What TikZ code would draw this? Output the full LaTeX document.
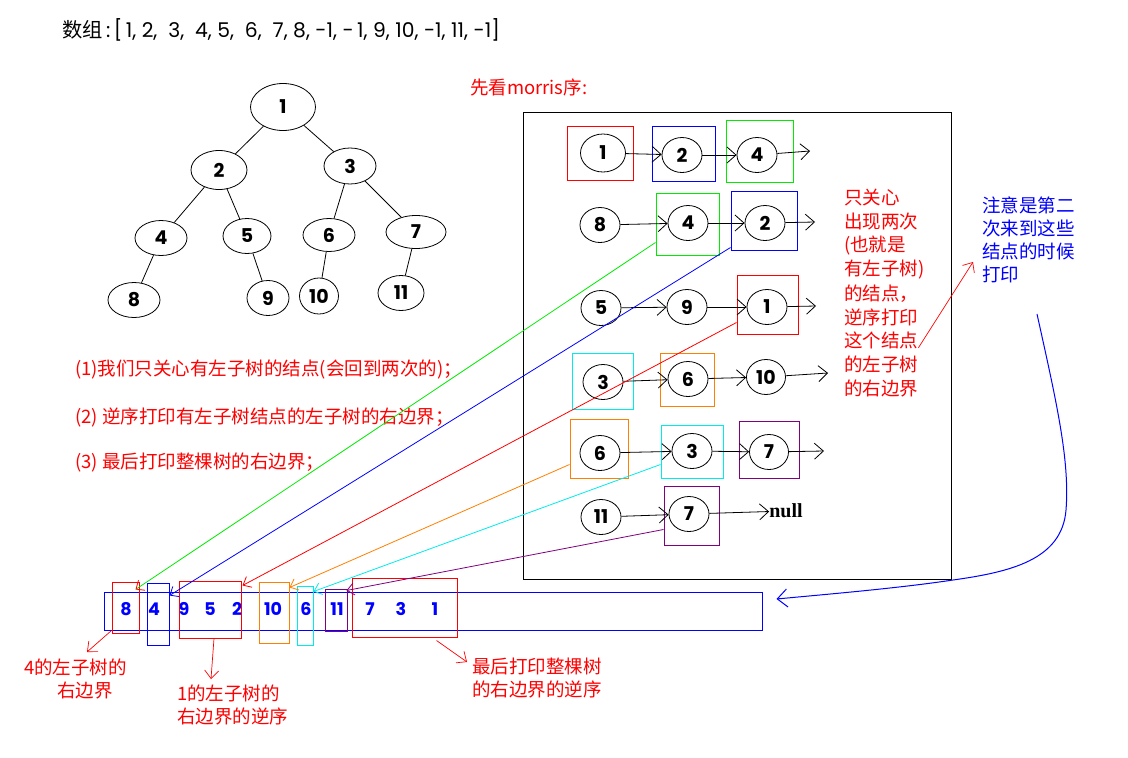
\documentclass[tikz,border=0pt]{standalone}
\usepackage{fontspec}
\setmainfont{Poppins}
\newfontfamily\cjk{Noto Sans CJK SC}
\newfontfamily\nulltextfont{Liberation Serif}
\usetikzlibrary{shapes.geometric,arrows.meta}

\definecolor{pRed}{RGB}{255,0,0}
\definecolor{pBlue}{RGB}{0,0,255}
\definecolor{pGreen}{RGB}{0,235,0}
\definecolor{pOrange}{RGB}{255,128,0}
\definecolor{pCyan}{RGB}{0,235,235}
\definecolor{pPurple}{RGB}{128,0,128}

\begin{document}
\begin{tikzpicture}[x=1pt,y=-1pt,
  every node/.style={inner sep=0pt},
  num/.style={font=\bfseries\fontsize{19}{19}\selectfont},
  tnode/.style={draw, ellipse, line width=0.8pt, num},
  mnode/.style={tnode, minimum width=40, minimum height=35},
  frame/.style={draw, line width=1pt},
  tedge/.style={line width=0.8pt},
  link/.style={line width=0.8pt, -{Straight Barb[length=9pt,width=16pt,line width=0.8pt]}},
  back/.style={line width=0.8pt, -{Straight Barb[length=7pt,width=12pt,line width=0.8pt]}},
  note/.style={pRed, line width=0.7pt, -{Straight Barb[length=8pt,width=14pt,line width=0.7pt]}},
  redtxt/.style={text=pRed, anchor=west, font=\cjk\fontsize{18.5}{18.5}\selectfont},
  bluetxt/.style={text=pBlue, anchor=west, font=\cjk\fontsize{18.5}{18.5}\selectfont},
  adigit/.style={text=pBlue, font=\bfseries\fontsize{17.5}{17.5}\selectfont}
]
\useasboundingbox (0,0) rectangle (1128,758);
\fill[white] (0,0) rectangle (1128,758);

% array heading
\node[anchor=west, font=\fontsize{20.3}{20.3}\selectfont] (title) at (62,30)
  {{\cjk 数组}\,:\,[\,1,\ 2,\ \ 3,\ \ 4,\ 5,\ \ 6,\ \ 7,\ 8,\ -1,\ -\,1,\ 9,\ 10,\ -1,\ 11,\ -1]};

% binary tree
\node[tnode, minimum width=65, minimum height=47] (t1) at (283,107) {1};
\node[tnode, minimum width=56, minimum height=39] (t2) at (219,170) {2};
\node[tnode, minimum width=52, minimum height=36] (t3) at (350,166) {3};
\node[tnode, minimum width=52, minimum height=35] (t4) at (161,238) {4};
\node[tnode, minimum width=48, minimum height=35] (t5) at (247,236) {5};
\node[tnode, minimum width=52, minimum height=33] (t6) at (329,235) {6};
\node[tnode, minimum width=60, minimum height=33] (t7) at (416,232) {7};
\node[tnode, minimum width=52, minimum height=35] (t8) at (134,300) {8};
\node[tnode, minimum width=42, minimum height=35] (t9) at (268,298) {9};
\node[tnode, minimum width=39, minimum height=36] (t10) at (319,296) {10};
\node[tnode, minimum width=46, minimum height=35] (t11) at (401,293) {11};
\draw[tedge] (t1) -- (t2);
\draw[tedge] (t1) -- (t3);
\draw[tedge] (t2) -- (t4);
\draw[tedge] (t2) -- (t5);
\draw[tedge] (t3) -- (t6);
\draw[tedge] (t3) -- (t7);
\draw[tedge] (t4) -- (t8);
\draw[tedge] (t5) -- (t9);
\draw[tedge] (t6) -- (t10);
\draw[tedge] (t7) -- (t11);

% rules
\node[redtxt] (r1) at (75,370) {(1)我们只关心有左子树的结点(会回到两次的)；};
\node[redtxt] (r2) at (75,417) {(2) 逆序打印有左子树结点的左子树的右边界；};
\node[redtxt] (r3) at (75,462) {(3) 最后打印整棵树的右边界；};

% morris traversal panel
\node[redtxt] (mhead) at (470,87) {先看morris序:};
\node[draw, line width=1pt, minimum width=428, minimum height=467] (panel) at (737,345.5) {};

% row 1
\node[mnode, minimum width=45, minimum height=38] (m11) at (603,153) {1};
\node[mnode] (m12) at (682,155) {2};
\node[mnode] (m13) at (757,155) {4};
\node[frame, draw=pRed, minimum width=66, minimum height=54] (f11) at (600,153) {};
\node[frame, draw=pBlue, minimum width=63, minimum height=55] (f12) at (683.5,153.5) {};
\node[frame, draw=pGreen, minimum width=67, minimum height=62] (f13) at (759.5,151) {};
\coordinate (o1) at (810,151);
\draw[link] (m11) -- (m12);
\draw[link] (m12) -- (m13);
\draw[link] (m13) -- (o1);

% row 2
\node[mnode] (m21) at (600,225) {8};
\node[mnode] (m22) at (688,223) {4};
\node[mnode] (m23) at (765,223) {2};
\node[frame, draw=pGreen, minimum width=63, minimum height=62] (f22) at (687.5,224) {};
\node[frame, draw=pBlue, minimum width=66, minimum height=59] (f23) at (764,220.5) {};
\coordinate (o2) at (815,222);
\draw[link] (m21) -- (m22);
\draw[link] (m22) -- (m23);
\draw[link] (m23) -- (o2);

% row 3
\node[mnode] (m31) at (601,308) {5};
\node[mnode] (m32) at (687,307) {9};
\node[mnode] (m33) at (767,307) {1};
\node[frame, draw=pRed, minimum width=61, minimum height=59] (f33) at (767.5,304.5) {};
\coordinate (o3) at (816,306);
\draw[link] (m31) -- (m32);
\draw[link] (m32) -- (m33);
\draw[link] (m33) -- (o3);

% row 4
\node[mnode] (m41) at (603,382) {3};
\node[mnode] (m42) at (688,379) {6};
\node[mnode, minimum width=39] (m43) at (766,377) {10};
\node[frame, draw=pCyan, minimum width=61, minimum height=56] (f41) at (602.5,381) {};
\node[frame, draw=pOrange, minimum width=54, minimum height=53] (f42) at (687,379.5) {};
\coordinate (o4) at (828,373);
\draw[link] (m41) -- (m42);
\draw[link] (m42) -- (m43);
\draw[link] (m43) -- (o4);

% row 5
\node[mnode] (m51) at (600,453) {6};
\node[mnode] (m52) at (692,451) {3};
\node[mnode, minimum width=39] (m53) at (769,452) {7};
\node[frame, draw=pOrange, minimum width=58, minimum height=59] (f51) at (599,448.5) {};
\node[frame, draw=pCyan, minimum width=62, minimum height=53] (f52) at (692,451.5) {};
\node[frame, draw=pPurple, minimum width=60, minimum height=57] (f53) at (769,449.5) {};
\coordinate (o5) at (824,451);
\draw[link] (m51) -- (m52);
\draw[link] (m52) -- (m53);
\draw[link] (m53) -- (o5);

% row 6
\node[mnode] (m61) at (601,517) {11};
\node[mnode] (m62) at (689,514) {7};
\node[frame, draw=pPurple, minimum width=55, minimum height=59] (f62) at (691.5,515.5) {};
\node[font=\nulltextfont\bfseries\fontsize{20}{20}\selectfont] (nul) at (786,511) {null};
\draw[link] (m61) -- (m62);
\draw[link] (m62) -- (nul);

% side notes
\foreach \t [count=\i] in {{只关心},{出现两次},{(也就是},{有左子树)},{的结点，},{逆序打印},{这个结点},{的左子树},{的右边界}}
  \node[redtxt] (rn\i) at (844,{174.2+23.8*\i}) {\t};
\foreach \t [count=\i] in {{注意是第二},{次来到这些},{结点的时候},{打印}}
  \node[bluetxt] (bn\i) at (982,{182+23*\i}) {\t};
\draw[note] ([yshift=-7pt]rn7.east) -- ([xshift=-9pt,yshift=12pt]bn4.west);

% printed sequence
\node[draw=pBlue, line width=1pt, minimum width=658, minimum height=38] (arr) at (433,611) {};
\node[adigit] (d8) at (126,609) {8};
\node[adigit] (d4) at (154,609) {4};
\node[adigit] (d9) at (184,609) {9};
\node[adigit] (d5) at (210,609) {5};
\node[adigit] (d2) at (237,609) {2};
\node[adigit] (d10) at (273,609) {10};
\node[adigit] (d6) at (306,609) {6};
\node[adigit] (d11) at (337,609) {11};
\node[adigit] (d7) at (370,609) {7};
\node[adigit] (d3) at (401,609) {3};
\node[adigit] (d1) at (435,609) {1};
\node[frame, draw=pRed, minimum width=27, minimum height=51] (a8) at (125.5,607.5) {};
\node[frame, draw=pBlue, minimum width=22, minimum height=62] (a4) at (158,614) {};
\node[frame, draw=pRed, minimum width=62, minimum height=57] (a952) at (210,609.5) {};
\node[frame, draw=pOrange, minimum width=30, minimum height=61] (a10) at (274,612.5) {};
\node[frame, draw=pCyan, minimum width=16, minimum height=59] (a6) at (305,615.5) {};
\node[frame, draw=pPurple, minimum width=22, minimum height=42] (a11) at (336,610) {};
\node[frame, draw=pRed, minimum width=105, minimum height=59] (a731) at (404.5,607.5) {};

% links from the second visits to the printed sequence
\draw[pGreen, back, -{Straight Barb[pRed,length=7pt,width=12pt,line width=0.8pt]}]
  ([yshift=13pt]f22.south west) -- ([xshift=-4pt,yshift=-8pt]a8.north east);
\draw[pBlue, back] ([yshift=3pt]f23.south west) -- ([yshift=-13pt]a4.north east);
\draw[pRed, back] ([yshift=12pt]f33.south west) -- ([xshift=1pt,yshift=-5pt]a952.north east);
\draw[pOrange, back] ([yshift=14pt]f51.south west) -- ([yshift=-6pt]a10.north east);
\draw[pCyan, back] ([yshift=14pt]f52.south west) -- ([yshift=-6pt]a6.north east);
\draw[pPurple, back] ([yshift=16pt]f62.south west) -- ([xshift=-1pt,yshift=-2pt]a11.north east);

% return arrow to the end of the sequence
\coordinate (bs) at (1037,314);
\draw[pBlue, line width=1pt, -{Straight Barb[length=10pt,width=18pt,line width=1pt]}]
  (bs) .. controls (1056,400) and (1070,460) .. (1066,510)
       .. controls (1062,560) and (1010,572) .. (953,580)
       .. controls (900,588) and (830,594) .. ([xshift=14pt,yshift=12pt]arr.east);

% captions under the sequence
\node[redtxt] (c41) at (24,667) {4的左子树的};
\node[redtxt] (c42) at (57,691) {右边界};
\node[redtxt] (c11) at (177,693) {1的左子树的};
\node[redtxt] (c12) at (177,716) {右边界的逆序};
\node[redtxt] (cr1) at (472,666) {最后打印整棵树};
\node[redtxt] (cr2) at (472,689) {的右边界的逆序};
\coordinate (n4t) at (87,652);
\coordinate (n1t) at (211,679);
\coordinate (nrt) at (467,662);
\draw[note] ([yshift=3pt]a8.south west) -- (n4t);
\draw[note] ([xshift=4pt]a952.south) -- (n1t);
\draw[note] ([xshift=32pt,yshift=-3pt]a731.south) -- (nrt);
\end{tikzpicture}
\end{document}
